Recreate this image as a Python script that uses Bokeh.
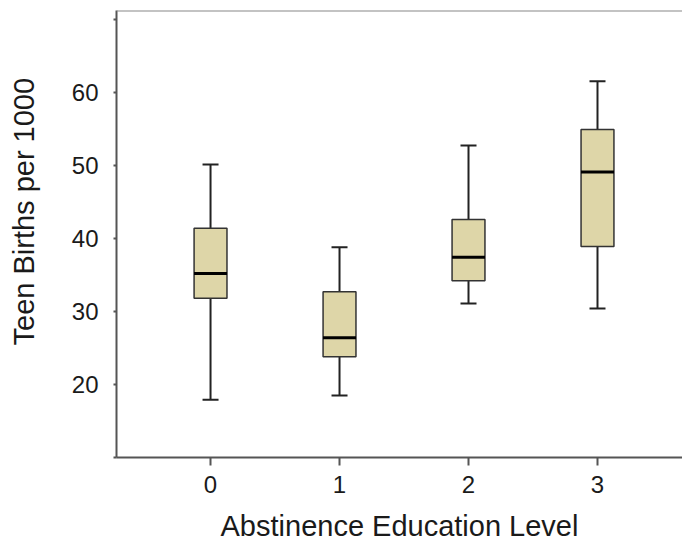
from bokeh.plotting import figure
from bokeh.models import (ColumnDataSource, FixedTicker, Range1d, Whisker, TeeHead, Span, Title)
from bokeh.embed import file_html
from bokeh.resources import INLINE

# Data
levels = [0, 1, 2, 3]
whisker_low = [17.9, 18.5, 31.1, 30.4]
q1 = [31.8, 23.8, 34.2, 38.9]
median = [35.2, 26.4, 37.4, 49.1]
q3 = [41.4, 32.7, 42.6, 54.9]
whisker_high = [50.1, 38.8, 52.7, 61.5]

x_ticks = [0, 1, 2, 3]
y_ticks = [10, 20, 30, 40, 50, 60, 70]
y_tick_labels = {10: "", 20: "20", 30: "30", 40: "40", 50: "50", 60: "60", 70: ""}

src = ColumnDataSource(dict(x=levels, lo=whisker_low, q1=q1, med=median,
                            q3=q3, hi=whisker_high))

FONT = "Liberation Sans"
TXT = "#1a1a1a"
AX = "#555555"

p = figure(width=682, height=544, output_backend="svg", toolbar_location=None,
           x_range=Range1d(-0.729, 3.659), y_range=Range1d(10, 71.2),
           min_border_left=116, min_border_right=0, min_border_top=10,
           min_border_bottom=87)
p.outline_line_color = None
p.grid.grid_line_color = None
p.background_fill_color = "white"

wh = Whisker(base="x", upper="hi", lower="lo", source=src,
             line_color="#222222", line_width=2,
             upper_head=TeeHead(size=16, line_color="#222222", line_width=2),
             lower_head=TeeHead(size=16, line_color="#222222", line_width=2))
p.add_layout(wh)

p.vbar(x="x", bottom="q1", top="q3", width=0.255, source=src,
       fill_color="#ded6a8", line_color="#333333", line_width=1.5)
p.dash(x="x", y="med", size=33, line_width=3, line_color="black", source=src)

# top border line
p.add_layout(Span(location=71.2, dimension="width", line_color="#888888", line_width=2))

for ax in (p.xaxis[0], p.yaxis[0]):
    ax.axis_line_color = AX
    ax.axis_line_width = 2
    ax.major_tick_line_color = AX
    ax.major_tick_line_width = 2
    ax.minor_tick_line_color = None
    ax.major_tick_in = 0
    ax.major_label_text_font = FONT
    ax.major_label_text_color = TXT
    ax.major_label_text_font_size = "24px"
    ax.axis_label_text_font = FONT
    ax.axis_label_text_color = TXT
    ax.axis_label_text_font_size = "29px"
    ax.axis_label_text_font_style = "normal"

p.xaxis.ticker = FixedTicker(ticks=x_ticks)
p.xaxis.major_tick_out = 8
p.xaxis.major_label_standoff = 10
p.xaxis.axis_label = "Abstinence Education Level"
p.xaxis.axis_label_standoff = 14

p.yaxis.ticker = FixedTicker(ticks=y_ticks)
p.yaxis.major_label_overrides = y_tick_labels
p.yaxis.major_tick_out = 3
p.yaxis.major_label_standoff = 15
# invisible spacer label: pushes the y title further from the axis
p.yaxis.axis_label = " "
p.yaxis.axis_label_text_font_size = "2px"
p.yaxis.axis_label_standoff = 19

ytitle = Title(text="Teen Births per 1000", align="left", offset=112,
               text_font=FONT, text_font_size="29px", text_font_style="normal",
               text_color=TXT, standoff=10)
p.add_layout(ytitle, "left")

open("out.html", "w").write(file_html(p, INLINE))
